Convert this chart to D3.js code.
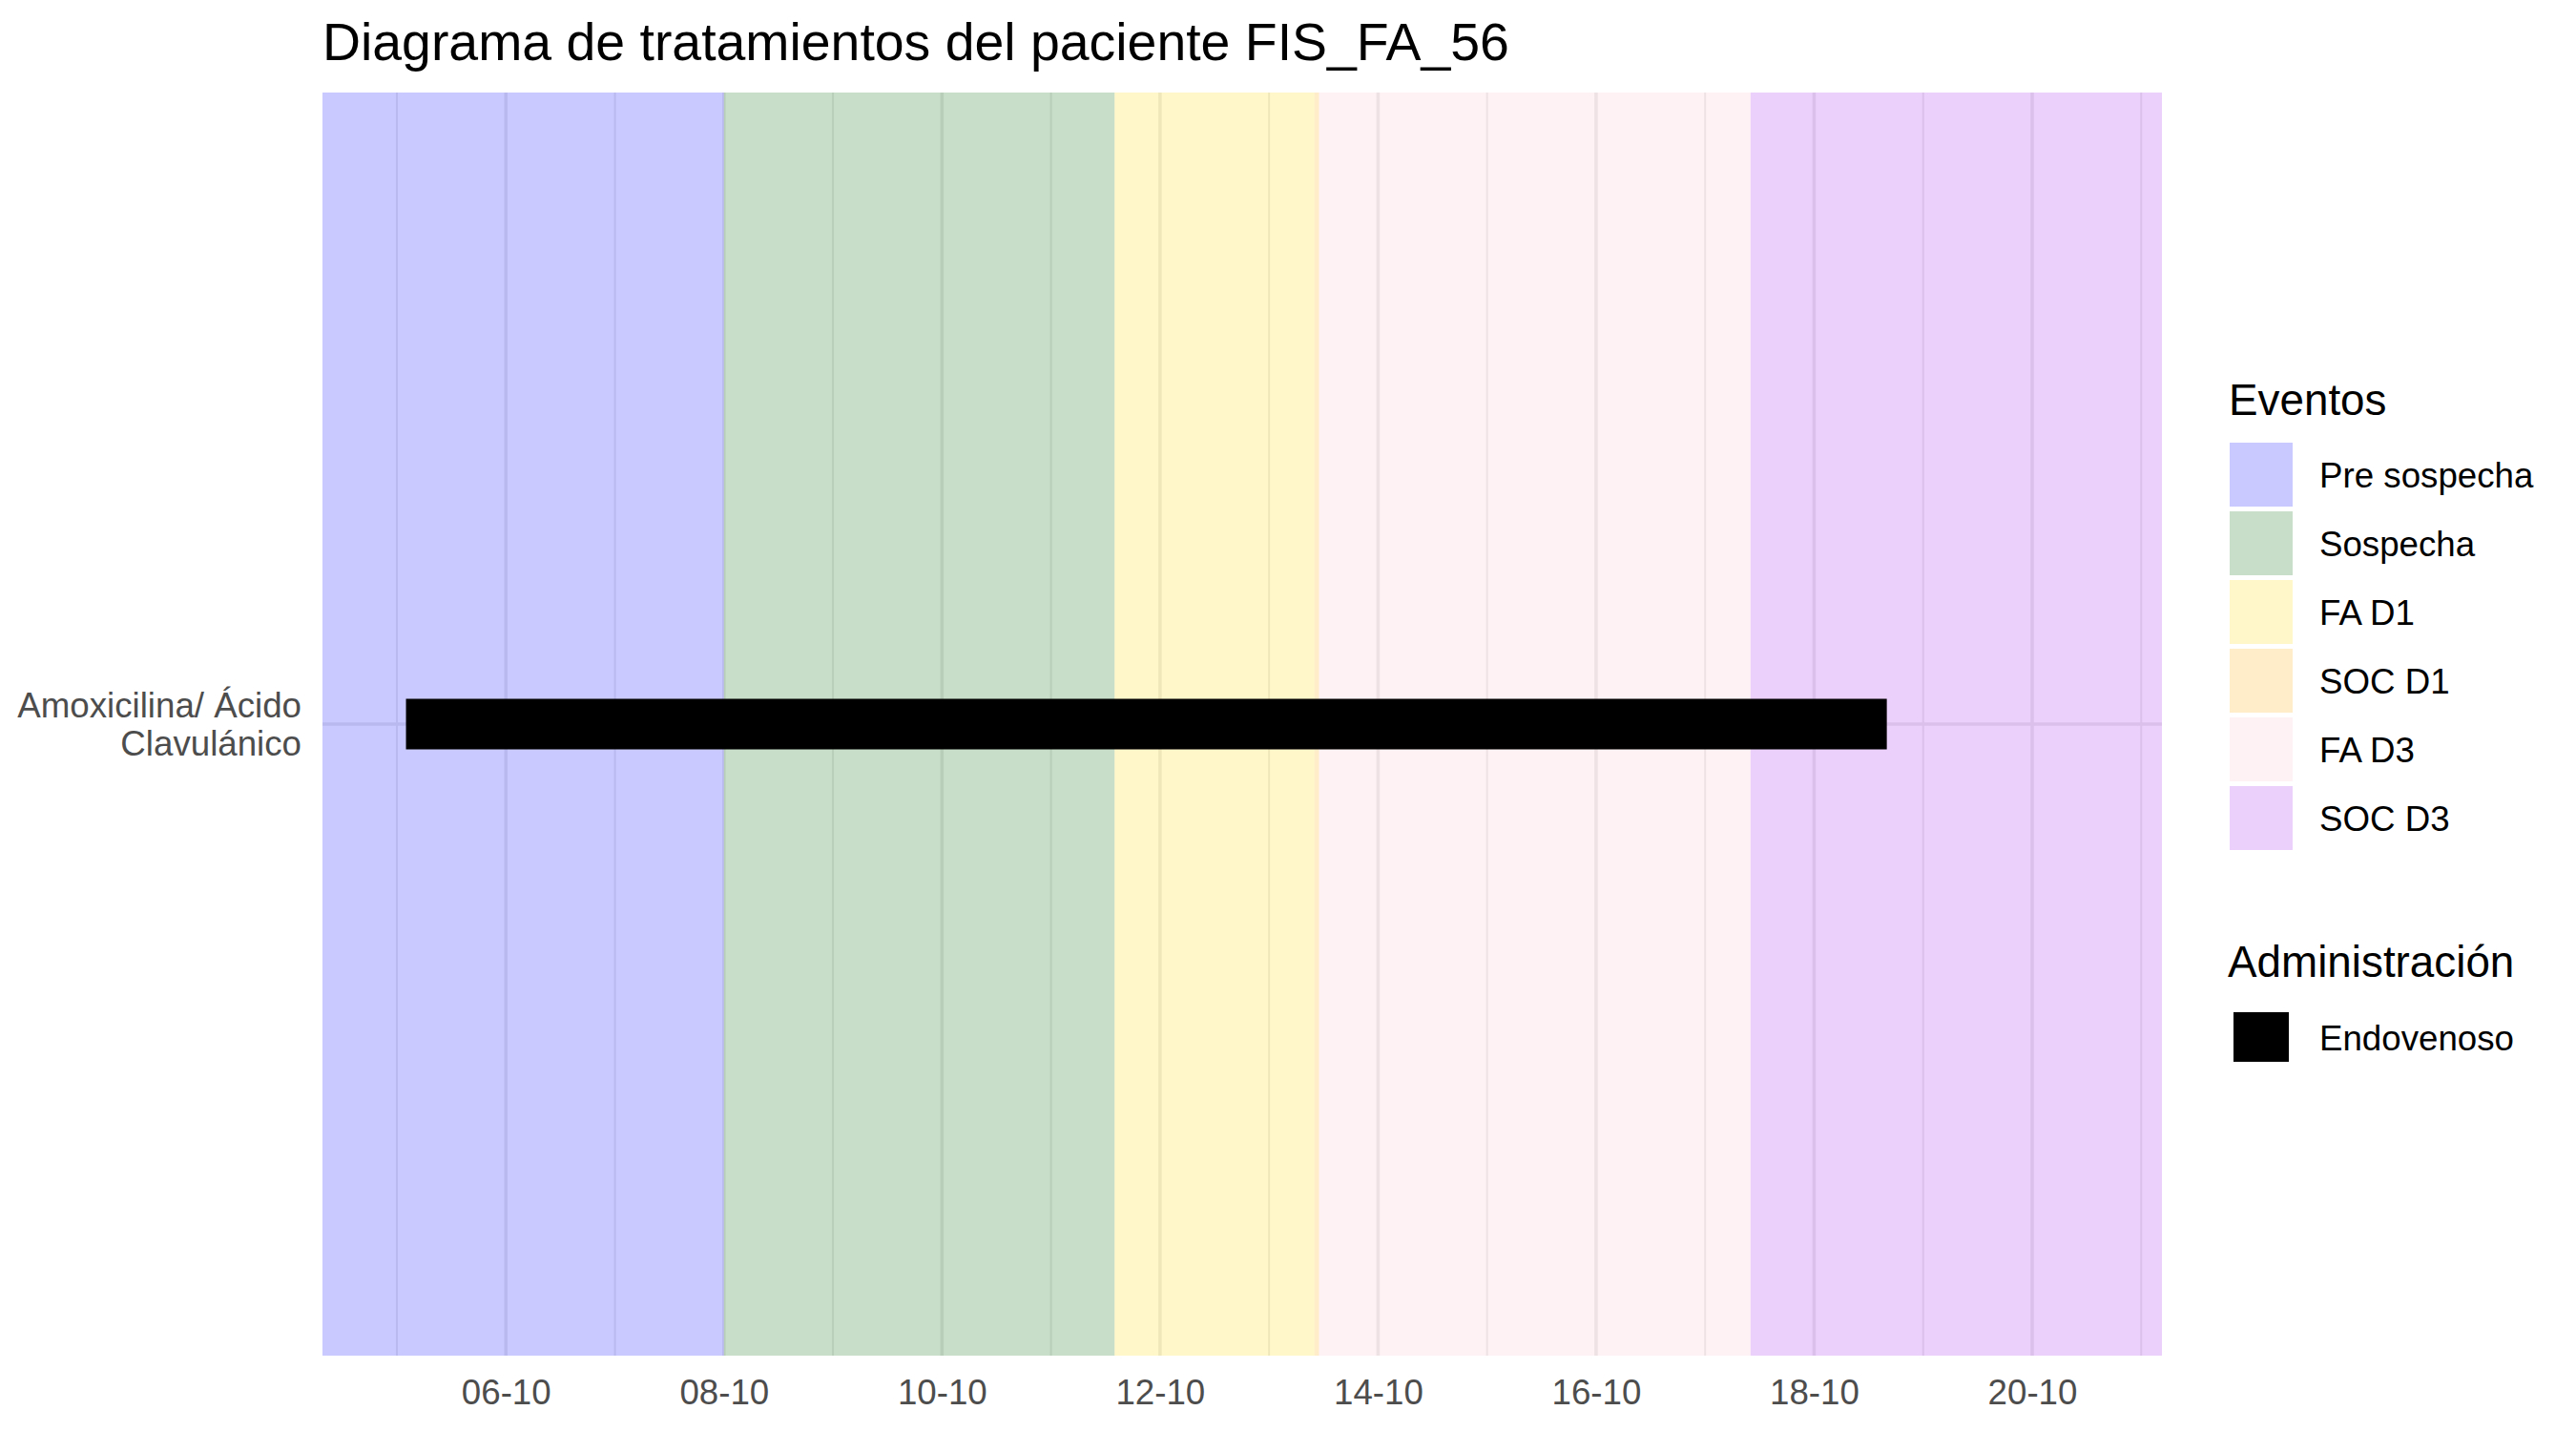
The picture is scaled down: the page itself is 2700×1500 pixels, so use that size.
<!DOCTYPE html>
<html>
<head>
<meta charset="utf-8">
<script src="https://cdn.jsdelivr.net/npm/d3@7"></script>
<style>
html,body{margin:0;padding:0;background:#fff;}
svg{display:block;font-family:"Liberation Sans",Arial,Helvetica,sans-serif;}
</style>
</head>
<body>
<svg id="chart" width="2700" height="1500"></svg>
<script>
// ---- data ----
const titleText = "Diagrama de tratamientos del paciente FIS_FA_56";
const eventNames = ["Pre sospecha", "Sospecha", "FA D1", "SOC D1", "FA D3", "SOC D3"];
const eventColors = ["#0000FF", "#006400", "#FFD700", "#FFA500", "#FFC0CB", "#A020F0"];
// null = open to panel edge
const eventStarts = [null, "2023-10-08T00:00", "2023-10-11T14:00", "2023-10-13T10:00", "2023-10-13T11:00", "2023-10-17T10:00"];
const eventEnds   = ["2023-10-08T00:00", "2023-10-11T14:00", "2023-10-13T10:00", "2023-10-13T11:00", "2023-10-17T10:00", null];
const drugs = ["Amoxicilina/ Ácido\nClavulánico"];
const drugRoute = ["Endovenoso"];
const drugStarts = ["2023-10-05T02:00"];
const drugEnds = ["2023-10-18T16:00"];
const routeNames = ["Endovenoso"];
const routeColors = ["#000000"];
const xDomain = ["2023-10-04T07:37", "2023-10-21T04:34"];
const majorTicks = ["2023-10-06", "2023-10-08", "2023-10-10", "2023-10-12", "2023-10-14", "2023-10-16", "2023-10-18", "2023-10-20"];
const minorTicks = ["2023-10-05", "2023-10-07", "2023-10-09", "2023-10-11", "2023-10-13", "2023-10-15", "2023-10-17", "2023-10-19", "2023-10-21"];

// ---- layout ----
const parse = s => new Date(s);
const panel = {left: 338, top: 97, right: 2266, bottom: 1421};
const svg = d3.select("#chart");
svg.append("rect").attr("width", 2700).attr("height", 1500).attr("fill", "#fff");

const x = d3.scaleTime().domain(xDomain.map(parse)).range([panel.left, panel.right]);
const y = d3.scalePoint().domain(drugs).range([panel.top, panel.bottom]).padding(0.5);

const g = svg.append("g");

// grid
g.selectAll(".minor").data(minorTicks.map(parse)).join("line")
  .attr("x1", d => x(d)).attr("x2", d => x(d))
  .attr("y1", panel.top).attr("y2", panel.bottom)
  .attr("stroke", "#EBEBEB").attr("stroke-width", 2);
g.selectAll(".major").data(majorTicks.map(parse)).join("line")
  .attr("x1", d => x(d)).attr("x2", d => x(d))
  .attr("y1", panel.top).attr("y2", panel.bottom)
  .attr("stroke", "#EBEBEB").attr("stroke-width", 3.5);
g.selectAll(".hmajor").data(drugs).join("line")
  .attr("x1", panel.left).attr("x2", panel.right)
  .attr("y1", d => y(d)).attr("y2", d => y(d))
  .attr("stroke", "#EBEBEB").attr("stroke-width", 3.5);

// event bands
const bands = eventNames.map((n, i) => ({
  name: n, color: eventColors[i],
  x0: eventStarts[i] ? x(parse(eventStarts[i])) : panel.left,
  x1: eventEnds[i] ? x(parse(eventEnds[i])) : panel.right
}));
g.selectAll(".band").data(bands).join("rect")
  .attr("x", d => d.x0).attr("width", d => d.x1 - d.x0)
  .attr("y", panel.top).attr("height", panel.bottom - panel.top)
  .attr("fill", d => d.color).attr("fill-opacity", 0.21);

// treatment bars
const barH = 53;
g.selectAll(".bar").data(drugs.map((d, i) => ({d, s: parse(drugStarts[i]), e: parse(drugEnds[i]), c: routeColors[routeNames.indexOf(drugRoute[i])]})))
  .join("rect")
  .attr("x", d => x(d.s)).attr("width", d => x(d.e) - x(d.s))
  .attr("y", d => y(d.d) - barH / 2).attr("height", barH)
  .attr("fill", d => d.c);

// x axis
const xAxis = d3.axisBottom(x).tickValues(majorTicks.map(parse)).tickFormat(d3.timeFormat("%d-%m")).tickSize(0).tickPadding(0);
const ax = svg.append("g").attr("transform", `translate(0,${panel.bottom})`).call(xAxis);
ax.select(".domain").remove();
ax.selectAll("text").attr("dy", null).attr("y", 51).attr("fill", "#4D4D4D")
  .style("font-size", "36.7px").style("font-family", "'Liberation Sans',Arial,sans-serif");

// y axis labels (two lines)
drugs.forEach(d => {
  const lines = d.split("\n");
  const t = svg.append("text").attr("text-anchor", "end").attr("fill", "#4D4D4D")
    .style("font-size", "36.7px");
  const cy = y(d);
  lines.forEach((l, j) => {
    t.append("tspan").attr("x", 316).attr("y", cy + (j - (lines.length - 1) / 2) * 39.5 + 13).text(l);
  });
});

// title
svg.append("text").attr("x", 338).attr("y", 63).attr("fill", "#000")
  .style("font-size", "55.4px").text(titleText);

// legend: Eventos
const lg = svg.append("g");
lg.append("text").attr("x", 2336).attr("y", 435).style("font-size", "45.8px").attr("fill", "#000").text("Eventos");
eventNames.forEach((n, i) => {
  const ky = 464 + i * 72;
  lg.append("rect").attr("x", 2337).attr("y", ky).attr("width", 66).attr("height", 67)
    .attr("fill", eventColors[i]).attr("fill-opacity", 0.21);
  lg.append("text").attr("x", 2431).attr("y", ky + 33.5 + 13.5).style("font-size", "36.7px").attr("fill", "#000").text(n);
});
// legend: Administración
lg.append("text").attr("x", 2335).attr("y", 1023.5).style("font-size", "45.8px").attr("fill", "#000").text("Administración");
routeNames.forEach((n, i) => {
  const ky = 1054 + i * 72;
  lg.append("rect").attr("x", 2341).attr("y", ky + 7).attr("width", 58).attr("height", 52)
    .attr("fill", routeColors[i]);
  lg.append("text").attr("x", 2431).attr("y", ky + 33.5 + 13.5).style("font-size", "36.7px").attr("fill", "#000").text(n);
});
</script>
</body>
</html>
